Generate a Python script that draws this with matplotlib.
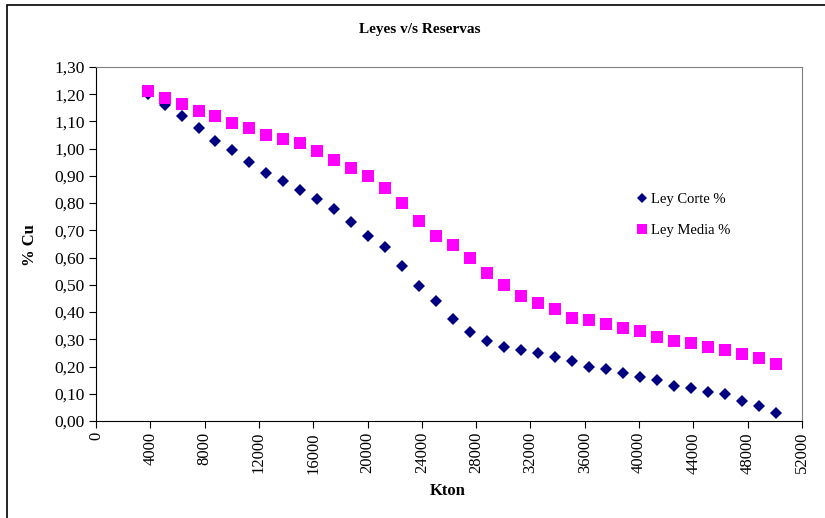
import matplotlib
matplotlib.use('Agg')
import matplotlib.pyplot as plt
from matplotlib.patches import Rectangle
from matplotlib.ticker import FuncFormatter

plt.rcParams['font.family'] = ['Liberation Serif', 'DejaVu Serif']

kton = [3800, 5050, 6300, 7550, 8800, 10050, 11300, 12550, 13800, 15050,
        16300, 17550, 18800, 20050, 21300, 22550, 23800, 25050, 26300, 27550,
        28800, 30050, 31300, 32550, 33800, 35050, 36300, 37550, 38800, 40050,
        41300, 42550, 43800, 45050, 46300, 47550, 48800, 50050]

ley_corte = [1.20, 1.16, 1.12, 1.075, 1.03, 0.995, 0.95, 0.91, 0.88, 0.85,
             0.815, 0.78, 0.73, 0.68, 0.64, 0.57, 0.495, 0.44, 0.375, 0.325,
             0.295, 0.27, 0.26, 0.25, 0.235, 0.22, 0.20, 0.19, 0.175, 0.16,
             0.15, 0.13, 0.12, 0.105, 0.10, 0.075, 0.055, 0.03]

ley_media = [1.21, 1.185, 1.165, 1.14, 1.12, 1.095, 1.075, 1.05, 1.035, 1.02,
             0.99, 0.96, 0.93, 0.90, 0.855, 0.80, 0.735, 0.68, 0.645, 0.60,
             0.545, 0.50, 0.46, 0.435, 0.41, 0.38, 0.37, 0.355, 0.34, 0.33,
             0.31, 0.295, 0.285, 0.27, 0.26, 0.245, 0.23, 0.21]

xticks = list(range(0, 52001, 4000))
yticks = [i / 10 for i in range(14)]

fig = plt.figure(figsize=(8.25, 5.18), dpi=100)
ax = fig.add_axes([0.1164, 0.1873, 0.8557, 0.6834])

ax.plot(kton, ley_corte, 'D', color='#000080', ms=6, mew=0, ls='none', label='Ley Corte %')
ax.plot(kton, ley_media, 's', color='#FF00FF', ms=8, mew=0, ls='none', label='Ley Media %')

ax.set_xlim(0, 52000)
ax.set_ylim(0, 1.30)
ax.set_xticks(xticks)
ax.set_yticks(yticks)
ax.yaxis.set_major_formatter(FuncFormatter(lambda v, p: f'{v:.2f}'.replace('.', ',')))
ax.tick_params(axis='x', labelrotation=90, labelsize=12, direction='out', length=5, pad=3)
ax.tick_params(axis='y', labelsize=12.5, direction='out', length=5, pad=3)

for s in ['top', 'right']:
    ax.spines[s].set_color('#808080')
for s in ['left', 'bottom']:
    ax.spines[s].set_color('black')

fig.text(420 / 825, 1 - 30 / 518, 'Leyes v/s Reservas', ha='center', va='center',
         fontsize=11, fontweight='bold')
fig.text(30 / 825, 1 - 245 / 518, '% Cu', ha='center', va='center', rotation=90,
         fontsize=12, fontweight='bold')
fig.text(448 / 825, 1 - 491 / 518, 'Kton', ha='center', va='center',
         fontsize=12, fontweight='bold')

ax.legend(loc='upper left', bbox_to_anchor=(620 / 825, 1 - 180 / 518),
          bbox_transform=fig.transFigure, frameon=False, fontsize=10.5,
          handletextpad=0.0, handlelength=1.2, labelspacing=1.2, markerscale=0.85)

# outer chart frame
fig.patches.append(Rectangle((7 / 825, -0.05), 1.2, 1 - 5 / 518 + 0.05,
                             transform=fig.transFigure, fill=False,
                             edgecolor='black', lw=1.2))

fig.savefig('out.png', dpi=100)
